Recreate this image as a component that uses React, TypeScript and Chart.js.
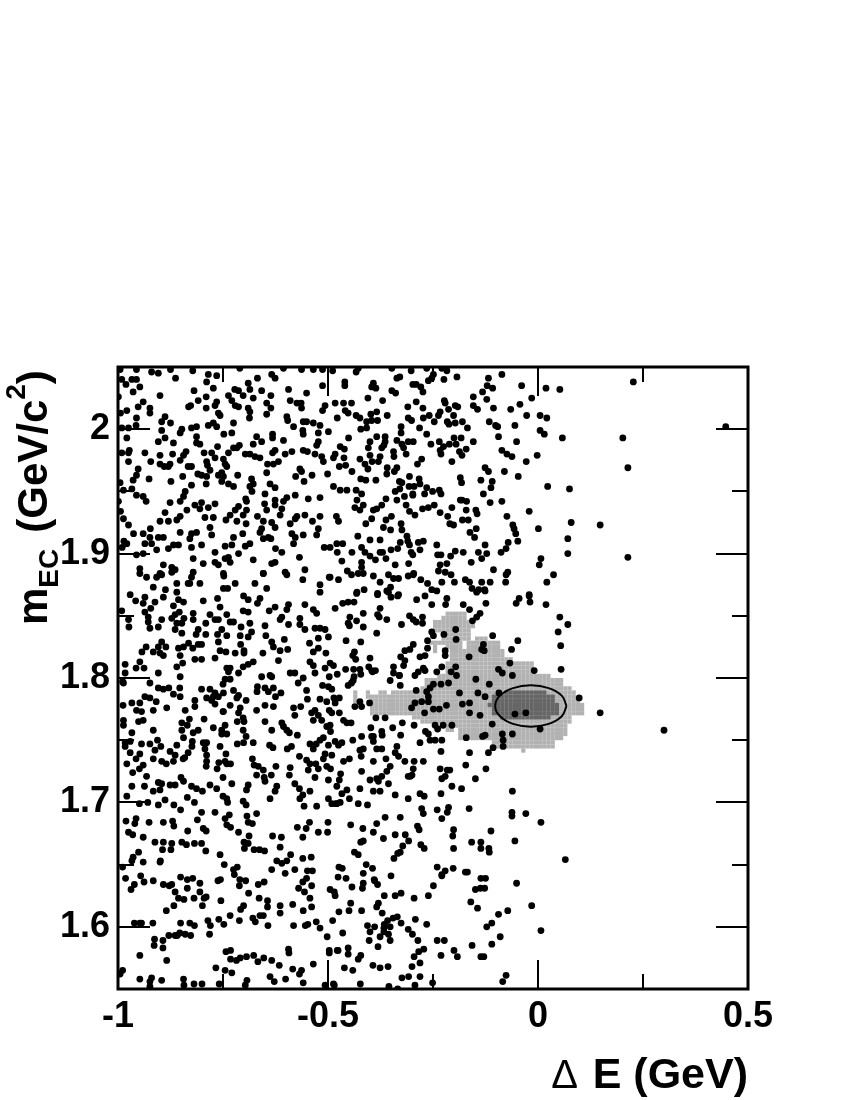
import React, { useEffect, useRef } from "react";
import { Chart, registerables } from "chart.js";
Chart.register(...registerables);

const xTickValues = [-1, -0.5, 0, 0.5];
const xMinorTicks = [-0.75, -0.25, 0.25];
const yTickValues = [1.6, 1.7, 1.8, 1.9, 2.0];
const yMinorTicks = [1.65, 1.75, 1.85, 1.95];

// [deltaE, mEC, deltaE, mEC, ...]
const dotsTopLeft = [
-.995,2.048,-.956,2.048,-.920,2.046,-.904,2.045,-.875,2.048,-.822,2.047,-.710,2.049,-.634,2.044,-.626,2.041,-.606,2.049,-.563,2.048,-.535,2.048,-.513,2.048,
-.991,2.040,-.981,2.036,-.967,2.040,-.956,2.040,-.964,2.030,-.948,2.034,-.863,2.041,-.785,2.044,-.765,2.043,-.789,2.038,-.773,2.033,-.819,2.031,-.668,2.041,-.690,2.037,-.658,2.031,-.594,2.032,-.551,2.029,-.513,2.035,-.722,2.032,-.686,2.032,-.737,2.027,-.702,2.027,-.636,2.027,-.900,2.027,-.999,2.026,
-.924,2.017,-.924,2.013,-.952,2.018,-.940,2.022,-.979,2.015,-.994,2.013,-.956,2.009,-.832,2.018,-.827,2.019,-.809,2.023,-.790,2.026,-.790,2.017,-.765,2.022,-.769,2.019,-.757,2.011,-.761,2.013,-.729,2.023,-.721,2.019,-.713,2.018,-.678,2.025,-.690,2.017,-.686,2.014,-.713,2.031,-.646,2.021,-.646,2.012,-.636,2.017,-.590,2.023,-.574,2.021,-.563,2.017,-.564,2.021,-.507,2.019,-.513,2.015,-.598,2.010,-.596,2.007,-.559,2.006,-.551,2.006,-.535,2.005,-.519,2.003,-.687,2.009,-.725,2.005,-.785,2.003,-.773,2.005,-.765,2.002,-.813,2.002,-.825,2.001,-.888,2.010,-.875,2.005,-.896,2.006,-.896,1.999,-.957,2.003,-.975,2.001,-.991,2.001,
-.852,1.997,-.848,2.000,-.729,1.997,-.748,1.996,-.813,1.994,-.813,1.989,-.805,1.988,-.868,1.989,-.904,1.990,-.888,1.993,-.979,1.993,-.670,1.994,-.658,1.990,-.678,1.988,-.632,1.996,-.632,1.993,-.606,1.991,-.626,1.983,-.632,1.981,-.582,2.002,-.560,1.999,-.559,1.996,-.523,1.997,-.523,1.990,-.527,1.987,-.499,1.998,-.763,1.986,-.795,1.981,-.777,1.981,-.769,1.977,-.838,1.982,-.844,1.979,-.725,1.985,-.711,1.987,-.717,1.985,-.737,1.981,-.749,1.976,-.936,1.981,-.973,1.983,-.975,1.981,-.991,1.981,-.900,1.979,-.870,1.980,
-.697,1.980,-.686,1.980,-.674,1.978,-.662,1.977,-.602,1.980,-.586,1.982,-.559,1.983,-.549,1.982,-.531,1.980,-.515,1.978,-.511,1.974,-.618,1.974,-.630,1.972,-.644,1.972,-.975,1.974,-.922,1.974,-.900,1.972,-.890,1.970,-.876,1.972,-.880,1.970,-.852,1.975,-.833,1.970,-.825,1.970,-.789,1.974,-.787,1.971,-.745,1.972,-.741,1.970,-.753,1.965,-.749,1.962,-.761,1.963,-.781,1.967,-.789,1.962,-.810,1.964,-.801,1.963,-.952,1.968,-.956,1.963,-.964,1.959,-.926,1.960,-.874,1.958,-.846,1.962,-.825,1.955,-.790,1.956,-.753,1.958,-.737,1.956,-.725,1.954,-.715,1.963,-.682,1.960,-.678,1.956,-.686,1.954,-.646,1.965,-.638,1.956,-.626,1.953,-.567,1.968,-.563,1.966,-.577,1.962,-.557,1.958,-.538,1.963,-.501,1.964,-.995,1.957,
-.987,1.951,-.967,1.952,-.956,1.947,-.940,1.946,-.933,1.942,-.999,1.942,-.840,1.950,-.844,1.946,-.852,1.942,-.876,1.941,-.681,1.950,-.650,1.948,-.578,1.947,-.598,1.945,-.547,1.944,-.519,1.945,-.696,1.944,-.694,1.942,-.769,1.940,-.801,1.941,-.817,1.939,-.805,1.936,-.785,1.937,-.836,1.935,-.888,1.933,-.852,1.930,-.860,1.927,-.994,1.934,-.987,1.928,-.713,1.938,-.721,1.935,-.733,1.931,-.694,1.935,-.702,1.931,-.651,1.940,-.626,1.943,-.626,1.939,-.606,1.942,-.610,1.936,-.614,1.931,-.646,1.935,-.668,1.930,-.555,1.931,-.574,1.930,-.519,1.930,-.537,1.926,
-.975,1.923,-.900,1.926,-.880,1.926,-.793,1.929,-.773,1.929,-.743,1.927,-.717,1.926,-.695,1.924,-.654,1.926,-.634,1.925,-.990,1.905,-.963,1.916,-.940,1.916,-.923,1.920,-.781,1.921,-.777,1.915,-.813,1.917,-.825,1.916,-.829,1.912,-.852,1.917,-.892,1.913,-.904,1.913,-.924,1.913,-.936,1.908,-.920,1.908,-.908,1.903,-.880,1.904,-.868,1.907,-.856,1.907,-.986,1.910,-.979,1.908,-.825,1.905,-.801,1.907,-.769,1.901,-.745,1.906,-.729,1.907,-.725,1.913,-.703,1.916,-.658,1.920,-.662,1.917,-.654,1.912,-.642,1.913,-.636,1.912,-.626,1.921,-.590,1.924,-.578,1.928,-.586,1.916,-.578,1.913,-.559,1.915,-.527,1.915,-.523,1.920,-.509,1.905,-.582,1.908,-.625,1.904,-.610,1.901,-.686,1.908,-.697,1.906,-.713,1.900,-.737,1.897,-.745,1.896,-.733,1.893,-.821,1.896,-.797,1.892,-.769,1.893,-.761,1.891,-.940,1.900,-.956,1.899,-.678,1.895,-.626,1.893,-.634,1.892,-.568,1.897,-.948,1.888,-.892,1.891,-.872,1.889,-.864,1.887,-.654,1.884,-.602,1.885,-.555,1.887,-.749,1.884,-.900,1.884
];

const dotsMidLeft = [
-.948,1.884,-.932,1.881,-.908,1.881,-.896,1.883,-.872,1.885,-.825,1.881,-.833,1.876,-.805,1.876,-.821,1.885,-.748,1.882,-.916,1.873,-.887,1.871,-.860,1.876,-.860,1.869,-.829,1.876,-.721,1.876,-.749,1.872,-.739,1.872,-.674,1.876,-.646,1.872,-.654,1.884,-.598,1.883,-.560,1.879,-.519,1.875,-.519,1.869,-.497,1.881,-.971,1.867,-.958,1.862,-.936,1.865,-.940,1.860,-.912,1.861,-.892,1.865,-.856,1.863,-.844,1.861,-.868,1.858,-.797,1.862,-.763,1.864,-.757,1.857,-.701,1.866,-.690,1.863,-.662,1.864,-.668,1.860,-.626,1.857,-.640,1.854,-.594,1.859,-.598,1.855,-.555,1.859,-.535,1.855,-.527,1.852,-.483,1.856,-.991,1.854,-.975,1.847,-.974,1.841,-.936,1.853,-.922,1.856,-.928,1.849,-.928,1.845,-.924,1.840,-.904,1.841,-.896,1.847,-.872,1.848,-.864,1.851,-.854,1.853,-.821,1.852,-.821,1.847,-.843,1.848,-.860,1.844,-.848,1.844,-.864,1.839,-.848,1.836,-.809,1.839,-.791,1.844,-.781,1.851,-.769,1.847,-.761,1.847,-.741,1.851,-.733,1.845,-.725,1.845,-.753,1.839,-.763,1.835,-.791,1.835,-.814,1.835,-.707,1.841,-.709,1.834,-.686,1.844,-.682,1.837,-.690,1.833,-.702,1.854,-.690,1.853,-.650,1.842,-.648,1.834,-.614,1.847,-.610,1.849,-.594,1.843,-.567,1.848,-.567,1.843,-.555,1.839,-.531,1.840,-.519,1.840,-.507,1.839,-.499,1.833,-.523,1.832,-.634,1.829,-.630,1.825,-.604,1.831,-.614,1.822,-.596,1.823,
-.896,1.829,-.904,1.825,-.886,1.825,-.900,1.820,-.892,1.818,-.916,1.821,-.933,1.825,-.943,1.821,-.856,1.824,-.844,1.825,-.852,1.818,-.832,1.828,-.822,1.824,-.809,1.827,-.801,1.827,-.761,1.829,-.757,1.822,-.743,1.821,-.741,1.834,-.721,1.820,-.700,1.822,-.700,1.820,-.708,1.827,-.655,1.820,-.544,1.828,-.535,1.821,-.523,1.824,-.505,1.820,-.817,1.815,-.801,1.815,-.769,1.816,-.846,1.812,-.860,1.809,-.948,1.813,-.957,1.808,-.983,1.811,-.938,1.808,-.983,1.804,-.904,1.804,-.852,1.801,-.618,1.814,-.543,1.813,-.535,1.810,-.495,1.812,-.487,1.810,-.507,1.808,-.741,1.808,-.733,1.808,-.745,1.799,-.733,1.799,-.737,1.805,-.713,1.804,-.702,1.809,-.690,1.811,-.678,1.813,-.658,1.801,-.638,1.802,-.634,1.801,-.650,1.792,-.630,1.792,-.642,1.789,-.625,1.785,-.668,1.793,-.669,1.789,-.725,1.790,-.713,1.786,-.717,1.784,-.695,1.782,-.733,1.778,-.749,1.773,-.709,1.776,-.713,1.772,-.750,1.773,-.650,1.778,-.630,1.777,-.670,1.774,
-.987,1.796,-.989,1.797,-.924,1.796,-.904,1.792,-.892,1.791,-.853,1.792,-.852,1.785,-.868,1.787,-.879,1.792,-.781,1.791,-.801,1.791,-.769,1.788,-.750,1.795,-.749,1.788,-.789,1.784,-.773,1.785,-.761,1.785,-.777,1.782,-.769,1.779,-.817,1.782,-.817,1.777,-.988,1.778,-.967,1.780,-.948,1.780,-.936,1.785,-.924,1.784,-.909,1.781,-.956,1.774,-.944,1.773,-.916,1.774,-.884,1.776,-.840,1.774,-.940,1.766,-.951,1.765,-.987,1.766,-.987,1.762,-.916,1.758,-.967,1.756,-.830,1.767,-.848,1.764,-.835,1.762,-.848,1.758,-.795,1.767,-.773,1.760,-.745,1.762,-.753,1.758,-.702,1.768,-.700,1.765,-.716,1.765,-.702,1.758,-.695,1.753,-.741,1.755,-.753,1.755,-.809,1.758,-.821,1.756,-.844,1.752,-.823,1.749,-.650,1.765,-.634,1.758,-.983,1.748,-.971,1.749,-.983,1.745,-.944,1.747,-.924,1.747,-.906,1.750,-.898,1.745,-.912,1.742,-.860,1.746,-.876,1.741,-.864,1.738,-.824,1.745,-.833,1.740,-.841,1.736,-.797,1.748,-.789,1.748,-.793,1.743,-.789,1.738,-.789,1.733,-.757,1.745,-.743,1.739,-.745,1.733,-.716,1.747,-.701,1.748,-.678,1.748,-.639,1.746,-.631,1.744,-.971,1.740,-.948,1.739,-.957,1.735,-.940,1.730,-.916,1.735,-.979,1.731,-.965,1.724,-.868,1.733,-.741,1.731,-.732,1.731,-.760,1.732,-.764,1.727,-.680,1.735,-.676,1.730,-.666,1.729,-.654,1.726,-.624,1.729,-.635,1.722,-.949,1.727,-.932,1.721,-.896,1.733,-.885,1.731,-.896,1.715,-.850,1.720,-.845,1.735,-.790,1.729,-.750,1.720,-.670,1.722,-.652,1.720
];

const dotsLowLeft = [
-.967,1.713,-.937,1.713,-.904,1.716,-.916,1.709,-.900,1.710,-.876,1.714,-.864,1.714,-.979,1.705,-.844,1.717,-.825,1.713,-.813,1.711,-.799,1.709,-.781,1.714,-.765,1.711,-.729,1.715,-.690,1.714,-.694,1.710,-.650,1.717,-.622,1.713,-.626,1.709,-.638,1.703,-.949,1.699,-.929,1.700,-.904,1.698,-.888,1.702,-.867,1.698,-.851,1.694,-.835,1.704,-.818,1.700,-.801,1.692,-.769,1.692,-.750,1.705,-.741,1.703,-.739,1.700,-.702,1.701,-.695,1.698,-.557,1.697,-.527,1.697,-.491,1.699,-.481,1.699,
-.981,1.685,-.957,1.687,-.960,1.683,-.926,1.684,-.892,1.684,-.870,1.685,-.867,1.681,-.811,1.686,-.797,1.679,-.790,1.677,-.745,1.687,-.735,1.690,-.741,1.682,-.732,1.680,-.713,1.676,-.693,1.689,-.690,1.684,-.680,1.683,-.670,1.691,-.500,1.684,-.544,1.684,-.573,1.680,-.552,1.679,-.523,1.676,-.501,1.676,-.975,1.676,-.965,1.674,-.940,1.672,-.834,1.677,-.912,1.668,-.892,1.668,-.894,1.662,-.872,1.667,-.874,1.662,-.848,1.668,-.837,1.666,-.818,1.667,-.801,1.667,-.791,1.661,-.688,1.673,-.700,1.668,-.690,1.667,-.699,1.663,-.676,1.662,-.663,1.662,-.651,1.661,-.632,1.673,-.611,1.672,-.614,1.664,-.560,1.672,-.560,1.655,-.540,1.656,-.951,1.660,-.964,1.656,-.967,1.653,-.940,1.652,-.899,1.653,-.900,1.652,-.989,1.648,-.757,1.658,-.747,1.650,-.716,1.648,-.725,1.646,-.723,1.642,-.622,1.653,-.610,1.651,-.598,1.653,-.589,1.658,-.634,1.646,-.602,1.643,-.579,1.646,-.549,1.645,-.537,1.645,-.474,1.648,-.982,1.639,-.946,1.641,-.938,1.636,-.916,1.637,-.961,1.634,-.969,1.630,-.892,1.634,-.878,1.633,-.872,1.634,-.864,1.628,-.851,1.640,-.835,1.638,-.822,1.639,-.805,1.635,-.835,1.631,-.856,1.623,-.843,1.622,-.819,1.623,-.805,1.628,-.795,1.623,-.790,1.624,-.756,1.638,-.762,1.637,-.710,1.638,-.696,1.637,-.711,1.633,-.666,1.634,-.652,1.636,-.689,1.627,-.664,1.623,-.560,1.636,-.551,1.639,-.539,1.633,-.570,1.631,-.556,1.628,-.543,1.623,-.495,1.630,-.483,1.625,-.485,1.628,-.476,1.640,-.755,1.621,-.867,1.617,-.885,1.613,-.799,1.617,-.701,1.617,-.708,1.614,-.644,1.616,-.614,1.617,-.614,1.611,-.584,1.618,-.539,1.616,-.559,1.613,-.474,1.612,-.733,1.609,-.711,1.605,-.679,1.607,-.673,1.604,-.662,1.609,-.654,1.609,-.643,1.601,-.644,1.621,-.582,1.601,-.554,1.601,-.548,1.602,-.528,1.604,-.519,1.599,-.502,1.592,-.961,1.603,-.944,1.603,-.917,1.603,-.851,1.603,-.829,1.603,-.818,1.601,-.786,1.605,-.780,1.601,-.782,1.594,-.760,1.606,-.748,1.602,-.948,1.603,-.893,1.589,-.879,1.593,-.893,1.583,-.864,1.593,-.859,1.593,-.853,1.595,-.840,1.594,-.827,1.593,-.913,1.590,-.914,1.585,-.948,1.577,-.884,1.573,-.594,1.582,-.593,1.579,-.497,1.579,-.478,1.581,-.743,1.580,-.732,1.581,-.732,1.574,-.718,1.573,-.709,1.575,-.694,1.576,-.677,1.577,-.667,1.572,-.653,1.575,-.634,1.573,-.616,1.569,-.535,1.570,-.497,1.581,-.767,1.567,-.745,1.565,-.729,1.563,-.584,1.566,-.563,1.565,-.568,1.562,-.989,1.565,-.995,1.562,-.948,1.558,-.920,1.559,-.924,1.556,-.896,1.557,-.844,1.558,-.843,1.553,-.819,1.554,-.800,1.554,-.759,1.554,-.693,1.557,-.697,1.553,-.638,1.560,-.628,1.556,-.601,1.558,-.559,1.555,-.507,1.553,-.487,1.554,-.924,1.552
];

const dotsTopCentre = [
-.489,2.047,-.428,2.049,-.433,2.046,-.348,2.049,-.302,2.047,-.265,2.049,-.229,2.049,-.217,2.047,-.249,2.044,-.253,2.041,-.224,2.040,-.193,2.042,-.329,2.042,-.336,2.041,-.261,2.039,-.460,2.038,-.460,2.035,-.392,2.037,-.396,2.034,-.386,2.033,-.298,2.036,-.290,2.036,-.279,2.034,-.274,2.030,-.348,2.031,-.339,2.029,-.405,2.025,-.370,2.023,-.223,2.023,-.221,2.021,-.483,2.021,-.463,2.021,-.444,2.021,-.459,2.015,-.452,2.013,-.290,2.022,-.310,2.018,-.274,2.017,-.197,2.019,-.191,2.018,-.213,2.016,-.233,2.014,-.237,2.011,-.478,2.009,-.433,2.011,-.424,2.009,-.398,2.012,-.384,2.014,-.408,2.006,-.396,2.007,-.382,2.007,-.359,2.011,-.309,2.009,-.301,2.007,-.273,2.009,-.259,2.011,-.247,2.006,-.201,2.011,-.216,2.006,-.197,2.005,-.212,2.004,-.180,2.006,-.168,2.001,-.422,2.000,-.408,2.001,-.326,2.002,-.326,1.997,-.282,2.001,-.265,1.996,-.451,1.993,-.384,1.994,-.364,1.994,-.400,1.990,-.364,1.990,-.367,1.987,-.372,1.985,-.336,1.991,-.324,1.988,-.320,1.985,-.309,1.990,-.297,1.990,-.255,1.988,-.235,1.990,-.225,1.986,-.233,1.983,-.231,1.980,-.200,1.993,-.183,1.993,-.211,1.988,-.195,1.988,-.154,1.990,-.171,1.984,-.187,1.982,-.181,1.979,
-.471,1.986,-.461,1.984,-.483,1.980,-.487,1.977,-.404,1.985,-.400,1.979,-.344,1.982,-.343,1.978,-.314,1.980,-.376,1.978,-.380,1.974,-.395,1.974,-.424,1.976,-.412,1.972,-.462,1.977,-.473,1.970,-.458,1.971,-.443,1.966,-.405,1.968,-.359,1.969,-.336,1.969,-.342,1.966,-.360,1.964,-.287,1.972,-.277,1.976,-.205,1.974,-.422,1.960,-.410,1.959,-.386,1.959,-.330,1.958,-.324,1.957,-.306,1.962,-.283,1.960,-.281,1.956,-.295,1.954,-.307,1.954,-.265,1.953,-.251,1.950,-.235,1.951,-.231,1.948,-.270,1.948,-.298,1.948,-.298,1.947,-.340,1.950,-.329,1.952,-.318,1.946,-.336,1.943,-.487,1.954,-.471,1.951,-.455,1.951,-.433,1.951,-.420,1.948,-.185,1.961,-.182,1.957,-.181,1.943,-.185,1.943,-.170,1.942,-.431,1.943,-.436,1.937,-.416,1.939,-.424,1.935,-.392,1.935,-.384,1.936,-.396,1.928,-.372,1.939,-.362,1.944,-.349,1.930,-.314,1.939,-.306,1.934,-.293,1.931,-.275,1.936,-.261,1.937,-.247,1.939,-.233,1.933,-.215,1.930,-.205,1.937,-.171,1.935,-.210,1.924,-.480,1.930,-.475,1.926,-.410,1.924,-.362,1.927,-.368,1.921,-.351,1.919,-.326,1.924,-.324,1.919,-.312,1.914,-.201,1.923,-.180,1.927,-.166,1.927,-.147,1.920,-.162,1.917,-.151,1.913,-.148,1.935,-.145,1.932,
-.429,1.914,-.400,1.911,-.376,1.911,-.479,1.908,-.465,1.908,-.495,1.905,-.478,1.901,-.443,1.901,-.420,1.905,-.412,1.901,-.400,1.898,-.387,1.895,-.376,1.901,-.370,1.901,-.350,1.903,-.334,1.904,-.328,1.909,-.310,1.910,-.306,1.907,-.302,1.901,-.298,1.899,-.285,1.909,-.273,1.910,-.281,1.903,-.241,1.907,-.239,1.899,-.231,1.899,-.208,1.898,-.197,1.902,-.178,1.901,-.142,1.901,-.467,1.894,-.420,1.893,-.420,1.889,-.362,1.896,-.340,1.891,-.308,1.892,-.296,1.884,-.233,1.891,-.217,1.892,-.237,1.886,-.221,1.885,-.207,1.883,-.199,1.877,-.454,1.886,-.444,1.883,-.428,1.884,-.416,1.884,-.392,1.882,-.356,1.883,-.344,1.880,-.332,1.880,-.309,1.882,-.297,1.883,-.279,1.879,-.376,1.877,-.475,1.879,-.495,1.881,-.229,1.877,-.241,1.870,-.263,1.876,-.173,1.879,-.141,1.871,-.163,1.877,-.157,1.872,-.134,1.877,-.114,1.877,-.127,1.871,-.414,1.871,-.431,1.869,-.382,1.868,-.351,1.873,-.360,1.870,-.332,1.867,-.253,1.871
];

const dotsTopRight = [
.227,2.038,.447,2.002,.019,2.033,.052,2.032,-.039,2.035,-.086,2.044,-.015,2.025,-.043,2.020,-.065,2.016,-.106,2.017,-.027,2.011,.005,2.011,.021,2.009,-.055,2.003,.005,1.999,.015,1.996,.058,1.993,.202,1.993,-.051,1.990,-.002,1.979,-.028,1.974,.214,1.969,-.080,1.966,-.047,1.962,.023,1.954,.075,1.952,-.021,1.934,.079,1.925,.148,1.923,.001,1.920,.071,1.912,.071,1.900,.214,1.897,.007,1.896,.003,1.891,.037,1.883,.021,1.877,-.021,1.867,
-.118,2.041,-.121,2.035,-.132,2.030,-.108,2.033,-.154,2.026,-.122,2.024,-.154,2.019,-.144,2.016,-.116,2.006,-.101,2.003,-.096,2.002,-.094,1.994,-.086,1.983,-.074,1.980,-.062,1.978,-.126,1.969,-.118,1.966,-.136,1.959,-.109,1.958,-.112,1.953,-.130,1.948,-.114,1.941,-.086,1.942,-.074,1.930,-.060,1.923,-.057,1.920,-.053,1.916,-.071,1.909,-.048,1.910,-.076,1.904,-.088,1.901,-.126,1.907,-.122,1.900,-.134,1.896,-.159,1.893,-.106,1.887,-.072,1.885,-.077,1.877,-.076,1.883
];

const dotsCore = [
-.045,1.864,-.052,1.860,-.021,1.866,-.019,1.861,.019,1.859,.052,1.849,.071,1.843,.048,1.837,.054,1.826,-.048,1.830,-.108,1.834,-.063,1.823,-.130,1.827,-.134,1.823,-.128,1.822,-.067,1.812,-.009,1.806,.055,1.807,-.094,1.807,-.085,1.804,-.061,1.802,-.148,1.799,-.116,1.795,-.093,1.788,-.143,1.788,-.126,1.785,.098,1.784,.148,1.772,.300,1.758,-.055,1.771,-.029,1.772,.005,1.759,-.061,1.755,-.085,1.755,-.109,1.763,-.138,1.770,-.163,1.772,-.163,1.780,-.180,1.779,-.187,1.788,-.083,1.750,-.083,1.745,-.107,1.744,-.118,1.740,-.126,1.754,-.132,1.753,-.171,1.752,-.163,1.740,-.124,1.727,-.172,1.730,-.205,1.762,-.218,1.778,-.231,1.795,-.213,1.796,-.194,1.802,-.207,1.805,-.196,1.809,-.164,1.817,-.221,1.822,-.221,1.818,-.195,1.831,-.196,1.839,-.224,1.835,-.253,1.837,-.249,1.834,-.263,1.830,-.263,1.824,-.297,1.827,-.305,1.823,-.317,1.822,-.327,1.817,-.317,1.814,-.320,1.810,-.281,1.817,-.269,1.818,-.273,1.808,-.269,1.806,-.285,1.805,-.293,1.802,-.229,1.809,-.241,1.805,-.249,1.795,-.257,1.792,-.265,1.789,-.261,1.785,-.261,1.781,-.277,1.781,-.293,1.780,-.301,1.776,-.270,1.772,-.249,1.775,-.235,1.775,-.290,1.790,-.245,1.762,-.239,1.759,-.226,1.762,-.268,1.757,-.261,1.755,-.245,1.750,-.257,1.750,-.229,1.750,-.281,1.748,-.295,1.762,-.295,1.733,-.297,1.727,-.273,1.733,-.231,1.741,-.233,1.727,-.216,1.726,-.210,1.726
];

const dotsGapTop = [
-.432,1.868,-.382,1.867,-.356,1.869,-.350,1.865,-.334,1.866,-.465,1.860,-.452,1.861,-.438,1.861,-.376,1.856,-.382,1.851,-.378,1.849,-.360,1.847,-.416,1.852,-.448,1.849,-.432,1.846,-.452,1.844,-.449,1.842,-.416,1.841,-.384,1.836,-.457,1.830,-.422,1.829,-.325,1.843,-.306,1.850,-.297,1.847,-.290,1.845,-.275,1.849,-.275,1.844,-.289,1.863,-.269,1.866,-.253,1.859,-.217,1.864,-.220,1.859,-.178,1.859,-.163,1.855,-.138,1.852,-.146,1.849,-.156,1.846,-.124,1.860,-.146,1.869,-.126,1.870,-.400,1.816,-.437,1.821,-.441,1.818,-.434,1.815,-.439,1.807,-.458,1.807,-.394,1.805,-.387,1.806,-.403,1.809,-.424,1.807,-.344,1.809,-.344,1.804,-.330,1.802
];

const dotsGapMid = [
-.590,1.804,-.579,1.804,-.571,1.796,-.559,1.800,-.531,1.804,-.497,1.801,-.478,1.803,-.438,1.801,-.422,1.803,-.396,1.806,-.330,1.802,-.352,1.798,-.328,1.794,-.513,1.794,-.499,1.793,-.491,1.791,-.452,1.794,-.444,1.796,-.440,1.798,-.551,1.790,-.612,1.788,-.549,1.783,-.519,1.783,-.503,1.781,-.486,1.784,-.473,1.784,-.483,1.780,-.424,1.781,-.401,1.780,-.420,1.777,-.436,1.777,-.565,1.777,-.582,1.776,-.579,1.770,-.531,1.774,-.539,1.772,-.523,1.770,-.535,1.766,-.497,1.774,-.491,1.772,-.473,1.772,-.463,1.766,-.455,1.764,-.445,1.764,-.515,1.766,-.503,1.761,-.495,1.762,-.494,1.757,-.610,1.764,-.606,1.761,-.598,1.758,-.592,1.756,-.573,1.754,-.386,1.768,-.364,1.768,-.398,1.760,-.372,1.757,-.371,1.754,-.346,1.760,-.323,1.764,-.327,1.754,-.420,1.753,-.396,1.753,-.392,1.753,-.441,1.750,-.483,1.749,-.467,1.748,-.475,1.746,-.511,1.752,-.519,1.750,-.528,1.747,-.543,1.747,-.535,1.743,-.587,1.745,-.597,1.743,-.568,1.737,-.551,1.734,-.543,1.731,-.590,1.728,-.547,1.726,-.523,1.727,-.529,1.731,-.503,1.729,-.494,1.727,-.511,1.735,-.507,1.739,-.499,1.746,-.491,1.738,-.463,1.733,-.449,1.735,-.416,1.743,-.424,1.742,-.421,1.737,-.392,1.749,-.384,1.743,-.372,1.743,-.336,1.745,-.340,1.740,-.332,1.737,-.392,1.733,-.317,1.733,-.362,1.735,-.352,1.729,-.360,1.725,-.372,1.721,-.384,1.719,-.380,1.717,-.400,1.718,-.420,1.725,-.470,1.723,-.473,1.718,-.479,1.713,-.499,1.718,-.531,1.720,-.592,1.722,-.579,1.715,-.568,1.711,-.543,1.709,-.560,1.706,-.567,1.703,-.455,1.710,-.467,1.707,-.449,1.703,-.424,1.711,-.392,1.709,-.376,1.709,-.356,1.715,-.309,1.721,-.309,1.703,-.499,1.703,-.340,1.706
];

const dotsLowCentre = [
.065,1.654,-.061,1.709,-.062,1.692,-.062,1.689,-.029,1.691,.007,1.684,-.112,1.677,-.055,1.669,-.051,1.635,-.015,1.617,-.072,1.613,.007,1.597,-.090,1.592,-.110,1.603,-.122,1.600,-.110,1.586,-.136,1.576,-.076,1.561,-.084,1.556,-.158,1.668,-.136,1.668,-.136,1.663,-.117,1.663,-.116,1.660,-.304,1.721,-.300,1.722,-.281,1.707,-.271,1.705,-.231,1.707,-.221,1.721,-.229,1.719,-.205,1.713,-.182,1.711,-.149,1.719,-.479,1.699,-.471,1.700,-.428,1.699,-.406,1.698,-.364,1.688,-.328,1.688,-.277,1.695,-.273,1.691,-.240,1.694,-.213,1.696,-.216,1.692,-.229,1.687,-.164,1.695,-.446,1.682,-.417,1.679,-.384,1.683,-.392,1.676,-.368,1.671,-.340,1.674,-.316,1.674,-.308,1.669,-.287,1.681,-.283,1.678,-.422,1.668,-.416,1.669,-.322,1.665,-.328,1.660,-.334,1.659,-.279,1.666,-.271,1.663,-.201,1.678,-.203,1.673,-.201,1.663,-.437,1.660,-.428,1.658,-.343,1.655,-.409,1.650,-.394,1.647,-.466,1.647,-.416,1.643,-.390,1.638,-.389,1.637,-.382,1.634,-.350,1.641,-.240,1.648,-.202,1.647,-.173,1.644,-.229,1.642,-.221,1.645,-.229,1.641,-.168,1.644,-.136,1.639,-.125,1.639,-.137,1.631,-.127,1.631,-.149,1.630,-.416,1.635,-.418,1.631,-.457,1.639,-.443,1.632,-.249,1.633,-.261,1.625,-.366,1.625,-.340,1.625,-.326,1.627,-.295,1.623,-.160,1.620,-.144,1.615,-.094,1.610,-.380,1.619,-.384,1.616,-.446,1.619,-.450,1.613,-.420,1.613,-.371,1.611,-.335,1.608,-.292,1.606,-.345,1.607,-.326,1.603,-.265,1.602,-.406,1.601,-.366,1.602,-.367,1.599,-.389,1.600,-.367,1.596,-.400,1.596,-.376,1.592,-.352,1.600,-.358,1.605,-.309,1.598,-.286,1.589,-.299,1.594,-.356,1.594,-.352,1.589,-.402,1.589,-.489,1.605,-.465,1.595,-.452,1.583,-.476,1.581,-.452,1.578,-.428,1.574,-.422,1.577,-.381,1.584,-.272,1.582,-.284,1.580,-.295,1.576,-.281,1.571,-.240,1.589,-.223,1.589,-.231,1.577,-.200,1.581,-.192,1.576,-.157,1.585,-.129,1.576,-.393,1.569,-.300,1.568,-.357,1.568,-.376,1.567,-.461,1.567,-.441,1.565,-.308,1.560,-.281,1.560,-.324,1.559,-.423,1.554,-.485,1.553,-.355,1.552,-.293,1.553,-.251,1.555,-.334,1.550
];

// 2D histogram rows: [row, firstBin, lastBin, firstBin, lastBin, ...]
const lightRows = [
[90,78,80,81,82],[89,77,82],[88,75,76,77,83],[87,75,84],[86,75,83],[85,77,83],[84,77,83,85,87],[83,74,76,77,81,83,90],[82,75,75,78,81,83,90],[81,75,75,79,91],[80,79,91],[79,79,93],[78,78,98],[77,78,98],[76,78,98],[75,76,102],[74,73,105],[73,73,105],[72,72,107],[71,56,56,59,59,62,63,65,108],[70,56,56,59,108],[69,56,56,60,109],[68,60,110],[67,60,110],[66,60,110],[65,70,107],[64,72,107],[63,78,106],[62,78,79,81,106],[61,81,106],[60,81,105],[59,89,103],[58,89,103],[57,96,96]
];
const darkRows = [
[71,92,101],[70,89,103],[69,89,103],[68,88,104],[67,89,104],[66,89,104],[65,91,102]
];

const ellipseX = [.068,.0566,.0255,-.017,-.0595,-.0906,-.102,-.0906,-.0595,-.017,.0255,.0566,.068];
const ellipseY = [1.7775,1.7858,1.7919,1.7941,1.7919,1.7858,1.7775,1.7692,1.7631,1.7609,1.7631,1.7692,1.7775];

const allDots = [dotsTopLeft, dotsMidLeft, dotsLowLeft, dotsTopCentre, dotsTopRight, dotsCore, dotsGapTop, dotsGapMid, dotsLowCentre];

function pairs(list: number[]) {
  const out: { x: number; y: number }[] = [];
  for (let i = 0; i + 1 < list.length; i += 2) out.push({ x: list[i], y: list[i + 1] });
  return out;
}
function cells(rows: number[][]) {
  const out: { x: number; y: number }[] = [];
  for (const r of rows) {
    for (let k = 1; k + 1 < r.length; k += 2) {
      for (let i = r[k]; i <= r[k + 1]; i++) {
        out.push({ x: -1 + (i + 0.5) * 0.01, y: 1.55 + (r[0] + 0.5) / 300 });
      }
    }
  }
  return out;
}

const FONT = '"Liberation Sans", Arial, sans-serif';

const framePlugin = {
  id: "frame",
  afterDatasetsDraw(chart: any) {
    const { ctx, chartArea: a, scales } = chart;
    const X = scales.x, Y = scales.y;
    ctx.save();
    ctx.strokeStyle = "#000";
    ctx.lineWidth = 2;
    ctx.beginPath();
    const vt = (v: number, len: number) => {
      const p = Math.round(X.getPixelForValue(v));
      ctx.moveTo(p, a.bottom); ctx.lineTo(p, a.bottom - len);
      ctx.moveTo(p, a.top); ctx.lineTo(p, a.top + len);
    };
    const ht = (v: number, len: number) => {
      const p = Math.round(Y.getPixelForValue(v));
      ctx.moveTo(a.left, p); ctx.lineTo(a.left + len, p);
      ctx.moveTo(a.right, p); ctx.lineTo(a.right - len, p);
    };
    xTickValues.forEach((v) => vt(v, 29));
    xMinorTicks.forEach((v) => vt(v, 15));
    yTickValues.forEach((v) => ht(v, 32));
    yMinorTicks.forEach((v) => ht(v, 16));
    ctx.stroke();
    ctx.lineWidth = 3;
    ctx.strokeRect(a.left, a.top, a.right - a.left, a.bottom - a.top);

    // x title
    ctx.fillStyle = "#000";
    ctx.textBaseline = "alphabetic";
    ctx.textAlign = "right";
    ctx.font = `bold 43px ${FONT}`;
    ctx.fillText("E (GeV)", 748, 1088);
    ctx.font = `40px ${FONT}`;
    ctx.fillText("Δ", 578, 1088);

    // y title
    ctx.translate(47, 625);
    ctx.rotate(-Math.PI / 2);
    ctx.textAlign = "left";
    let cx = 0;
    const put = (t: string, size: number, dy: number, gap = 0) => {
      ctx.font = `bold ${size}px ${FONT}`;
      ctx.fillText(t, cx, dy);
      cx += ctx.measureText(t).width + gap;
    };
    put("m", 42, 0);
    put("EC", 28, 11, 16);
    put("(GeV/c", 42, 0);
    put("2", 28, -22);
    put(")", 42, 0);
    ctx.restore();
  },
};

export default function App() {
  const ref = useRef<HTMLCanvasElement | null>(null);
  useEffect(() => {
    const chart = new Chart(ref.current as any, {
      type: "scatter",
      plugins: [framePlugin],
      data: {
        datasets: [
          {
            label: "signal region",
            type: "line",
            data: ellipseX.map((x, i) => ({ x, y: ellipseY[i] })),
            borderColor: "#000",
            borderWidth: 2,
            pointRadius: 0,
            tension: 0.4,
            fill: false,
            order: 0,
          },
          {
            label: "data",
            data: allDots.flatMap(pairs),
            backgroundColor: "#000",
            borderWidth: 0,
            pointRadius: 3.4,
            order: 1,
          },
          {
            label: "MC core",
            data: cells(darkRows),
            pointStyle: "rect",
            backgroundColor: "#666666",
            borderWidth: 0,
            pointRadius: 2.98,
            order: 2,
          },
          {
            label: "MC",
            data: cells(lightRows),
            pointStyle: "rect",
            backgroundColor: "#b2b2b2",
            borderWidth: 0,
            pointRadius: 2.98,
            order: 3,
          },
        ],
      } as any,
      options: {
        animation: false,
        responsive: false,
        layout: { padding: { top: 367, right: 102, left: 0, bottom: 0 } },
        plugins: { legend: { display: false }, title: { display: false }, tooltip: { enabled: false } },
        scales: {
          x: {
            type: "linear",
            min: -1,
            max: 0.5,
            grid: { display: false },
            border: { display: false },
            afterFit: (s: any) => { s.height = 111; },
            afterBuildTicks: (s: any) => { s.ticks = xTickValues.map((value) => ({ value })); },
            ticks: {
              autoSkip: false,
              maxRotation: 0,
              padding: -2,
              color: "#000",
              font: { family: FONT, size: 36, weight: "bold" },
              callback: (v: any) => String(v),
            },
          },
          y: {
            type: "linear",
            min: 1.55,
            max: 2.05,
            grid: { display: false },
            border: { display: false },
            afterFit: (s: any) => { s.width = 118; },
            afterBuildTicks: (s: any) => { s.ticks = yTickValues.map((value) => ({ value })); },
            ticks: {
              autoSkip: false,
              padding: 0,
              color: "#000",
              font: { family: FONT, size: 36, weight: "bold" },
              callback: (v: any) => (v === 2 ? "2" : Number(v).toFixed(1)),
            },
          },
        },
      } as any,
    });
    return () => chart.destroy();
  }, []);
  return (
    <div style={{ position: "absolute", left: 0, top: 0, width: 850, height: 1100 }}>
      <canvas ref={ref} width={850} height={1100} style={{ display: "block" }} />
    </div>
  );
}
